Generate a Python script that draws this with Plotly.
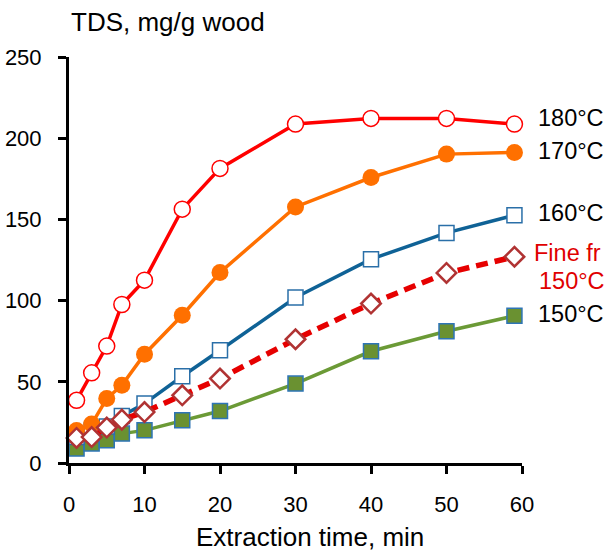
import plotly.graph_objects as go

time_min = [1, 3, 5, 7, 10, 15, 20, 30, 40, 50, 59]
tds_180 = [38.6, 55.5, 72, 97.6, 112.6, 156.3, 181.4, 208.7, 212.2, 212.2, 208.7]
tds_170 = [20, 24, 39.7, 47.9, 67, 91, 117.3, 157.7, 175.8, 190.2, 191.2]
tds_160 = [16, 20, 22.5, 29, 36.6, 53.4, 69.4, 101.9, 125.5, 141.7, 152.6]
tds_fine150 = [15.4, 16, 21.8, 26.7, 31.4, 41.7, 52, 76.2, 98.2, 117, 127]
tds_150 = [8.9, 12, 14, 18.1, 20.1, 26.3, 32, 48.9, 68.8, 81.1, 90.6]

series_labels = ["180°C", "170°C", "160°C", "Fine fr", "150°C", "150°C"]
label_y = [212.5, 191.9, 154.1, 129.5, 112.1, 91.6]
x_ticks = [0, 10, 20, 30, 40, 50, 60]
y_ticks = [0, 50, 100, 150, 200, 250]

FONT = "Liberation Sans, Arial, sans-serif"

fig = go.Figure()

fig.add_trace(go.Scatter(
    x=time_min, y=tds_150, mode="lines+markers",
    line=dict(color="#6B9A36", width=3.5),
    marker=dict(symbol="square", size=15, color="#6A9131",
                line=dict(color="#2E75B6", width=1.5)),
    cliponaxis=False))
fig.add_trace(go.Scatter(
    x=time_min, y=tds_160, mode="lines+markers",
    line=dict(color="#0F6296", width=3.5),
    marker=dict(symbol="square", size=15, color="white",
                line=dict(color="#2A6FA8", width=1.5)),
    cliponaxis=False))
fig.add_trace(go.Scatter(
    x=time_min, y=tds_170, mode="lines+markers",
    line=dict(color="#FF7000", width=3.5),
    marker=dict(symbol="circle", size=17, color="#FF7000",
                line=dict(color="#FF7000", width=0)),
    cliponaxis=False))
fig.add_trace(go.Scatter(
    x=time_min, y=tds_180, mode="lines+markers",
    line=dict(color="#FF0000", width=3.5),
    marker=dict(symbol="circle", size=16, color="white",
                line=dict(color="#FF0000", width=1.5)),
    cliponaxis=False))
fig.add_trace(go.Scatter(
    x=time_min, y=tds_fine150, mode="lines+markers",
    line=dict(color="#E60000", width=5.5, dash="12px,7px"),
    marker=dict(symbol="diamond", size=15, color="white",
                line=dict(color="#B03333", width=2.5)),
    cliponaxis=False))

# right-hand series labels
label_colors = ["black", "black", "black", "#E00000", "#E00000", "black"]
label_x = [1.032, 1.032, 1.032, 1.021, 1.033, 1.032]
for txt, yy, cc, xx in zip(series_labels, label_y, label_colors, label_x):
    fig.add_annotation(x=xx, y=yy, xref="paper", yref="y", text=txt,
                       showarrow=False, xanchor="left", yanchor="middle",
                       font=dict(family=FONT, size=23.5, color=cc))

fig.add_annotation(x=0, y=1.086, xref="paper", yref="paper",
                   text="TDS, mg/g wood", showarrow=False,
                   xanchor="left", yanchor="middle",
                   font=dict(family=FONT, size=26, color="black"))
fig.add_annotation(x=0.532, y=-0.182, xref="paper", yref="paper",
                   text="Extraction time, min", showarrow=False,
                   xanchor="center", yanchor="middle",
                   font=dict(family=FONT, size=26, color="black"))

fig.update_layout(
    width=608, height=553,
    margin=dict(l=69, r=86, t=57, b=90, autoexpand=False),
    paper_bgcolor="white", plot_bgcolor="white",
    showlegend=False,
    font=dict(family=FONT, size=22, color="black"),
)
fig.update_xaxes(range=[0, 60], tickvals=x_ticks, ticks="outside",
                 ticklen=8, tickwidth=3, tickcolor="black",
                 showline=True, linewidth=3, linecolor="black",
                 showgrid=False, zeroline=False, ticklabelstandoff=12,
                 automargin=False,
                 tickfont=dict(family=FONT, size=22, color="black"))
fig.update_yaxes(range=[0, 250], tickvals=y_ticks, ticks="outside",
                 ticklen=8, tickwidth=3, tickcolor="black",
                 showline=True, linewidth=3, linecolor="black",
                 showgrid=False, zeroline=False, ticklabelstandoff=12,
                 automargin=False,
                 tickfont=dict(family=FONT, size=22, color="black"))

fig.write_html("out.html")
